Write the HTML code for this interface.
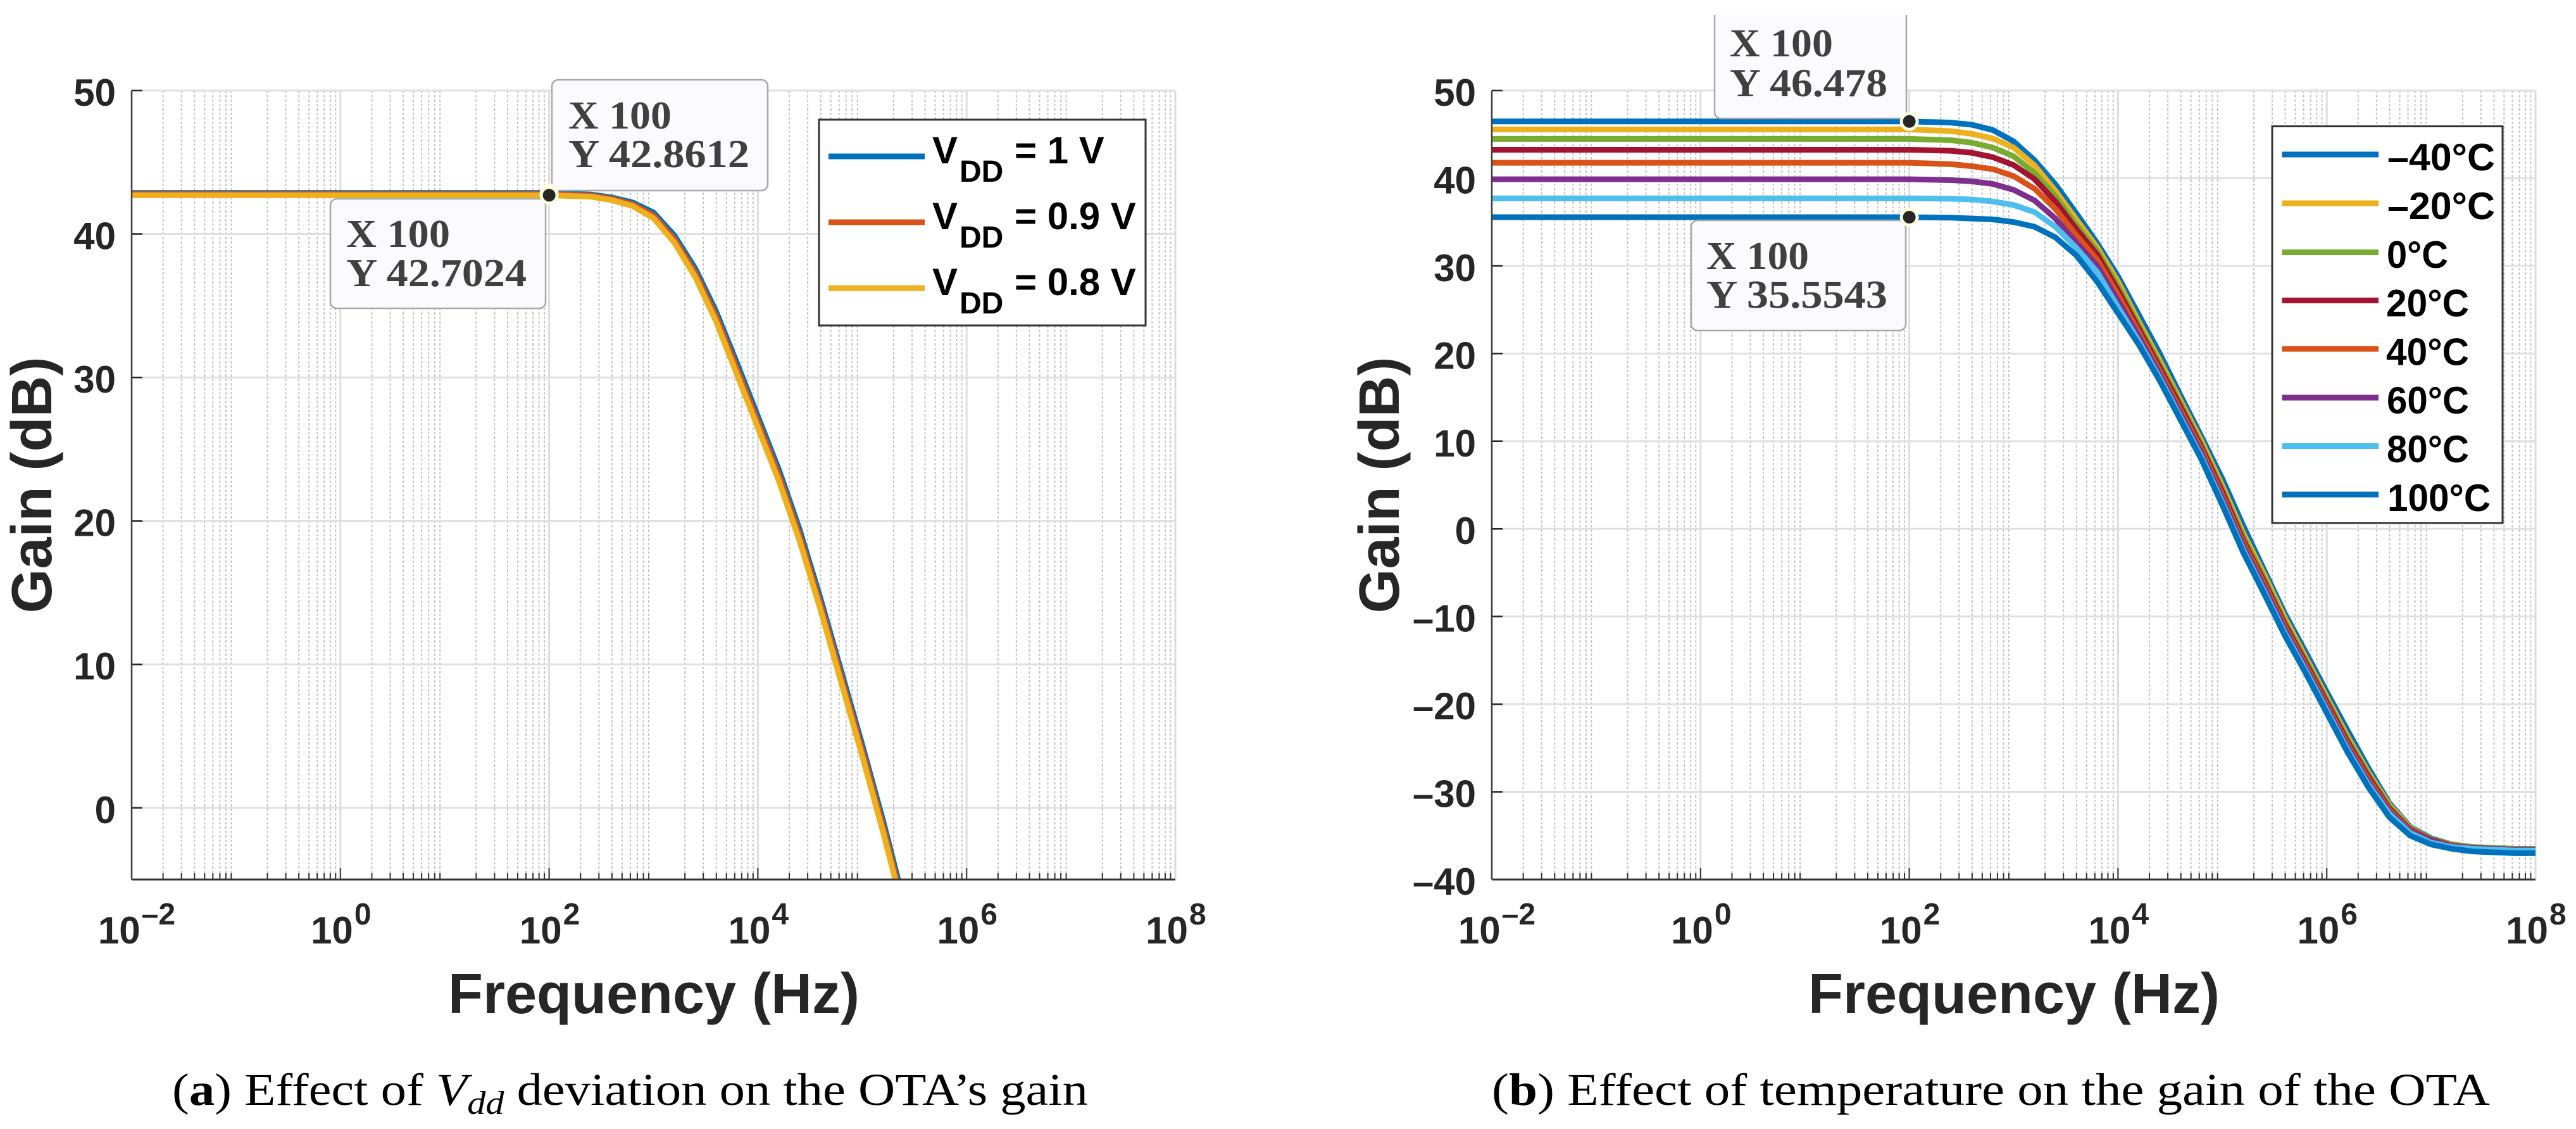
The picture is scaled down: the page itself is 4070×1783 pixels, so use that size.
<!DOCTYPE html>
<html lang="en">
<head>
<meta charset="utf-8">
<title>Effect of VDD deviation and temperature on OTA gain</title>
<style>
html,body{margin:0;padding:0;background:#fff;width:4070px;height:1783px;overflow:hidden}
svg{display:block;font-family:"Liberation Sans",Arial,sans-serif}
.sans{font-family:"Liberation Sans",Arial,sans-serif;font-weight:bold}
.tip{font-family:"Liberation Serif",serif;font-weight:bold;font-size:62px;fill:#404040}
.cap{font-family:"Liberation Serif",serif;font-size:72px;fill:#000}
</style>
</head>
<body>
<svg id="root" xmlns="http://www.w3.org/2000/svg" width="4070" height="1783" viewBox="0 0 4070 1783">
  <defs>
    <clipPath id="clip-a"><rect x="208" y="143" width="1649" height="1246"/></clipPath>
    <clipPath id="clip-b"><rect x="2357" y="143" width="1649" height="1246"/></clipPath>
    <clipPath id="clip-tip"><rect x="2600" y="24" width="500" height="200"/></clipPath>
  </defs>
  <rect x="0" y="0" width="4070" height="1783" fill="#fff"/>
  <g id="panel-a"></g>
  <g id="panel-b"></g>

  <!-- left legend -->
  <g>
    <rect x="1294" y="189" width="516" height="325" fill="#fff" stroke="#333" stroke-width="3"/>
    <g>
      <rect x="1309" y="242.500" width="152" height="9" fill="#0072BD"/>
      <text class="sans" font-size="60" fill="#000"><tspan x="1473" y="258">V</tspan><tspan x="1516" y="287" font-size="48">DD</tspan><tspan x="1603" y="258">= 1 V</tspan></text>
    </g>
    <g>
      <rect x="1309" y="346.500" width="152" height="9" fill="#D95319"/>
      <text class="sans" font-size="60" fill="#000"><tspan x="1473" y="362">V</tspan><tspan x="1516" y="391" font-size="48">DD</tspan><tspan x="1603" y="362">= 0.9 V</tspan></text>
    </g>
    <g>
      <rect x="1309" y="450.500" width="152" height="9" fill="#EDB120"/>
      <text class="sans" font-size="60" fill="#000"><tspan x="1473" y="466">V</tspan><tspan x="1516" y="495" font-size="48">DD</tspan><tspan x="1603" y="466">= 0.8 V</tspan></text>
    </g>
  </g>

  <!-- left data tips -->
  <g>
    <rect x="872" y="126" width="341" height="175" rx="10" fill="#fafaff" stroke="#a8a8a8" stroke-width="2.500"/>
    <text class="tip" x="898" y="203" textLength="163" lengthAdjust="spacingAndGlyphs">X 100</text>
    <text class="tip" x="898" y="264" textLength="286" lengthAdjust="spacingAndGlyphs">Y 42.8612</text>
  </g>
  <g>
    <rect x="522" y="314" width="340" height="173" rx="10" fill="#fafaff" stroke="#a8a8a8" stroke-width="2.500"/>
    <text class="tip" x="547" y="390" textLength="164" lengthAdjust="spacingAndGlyphs">X 100</text>
    <text class="tip" x="547" y="452" textLength="285" lengthAdjust="spacingAndGlyphs">Y 42.7024</text>
  </g>

  <!-- right legend -->
  <g>
    <rect x="3590" y="199.500" width="364" height="626.500" fill="#fff" stroke="#333" stroke-width="3"/>
    <g class="sans" font-size="60" fill="#000">
      <g><rect x="3605.500" y="239.500" width="152.500" height="9" fill="#0072BD"/><text x="3772" y="269" textLength="170" lengthAdjust="spacingAndGlyphs">–40°C</text></g>
      <g><rect x="3605.500" y="316.500" width="152.500" height="9" fill="#EDB120"/><text x="3772" y="346" textLength="170" lengthAdjust="spacingAndGlyphs">–20°C</text></g>
      <g><rect x="3605.500" y="394" width="152.500" height="9" fill="#77AC30"/><text x="3771" y="423" textLength="97" lengthAdjust="spacingAndGlyphs">0°C</text></g>
      <g><rect x="3605.500" y="470" width="152.500" height="9" fill="#A2142F"/><text x="3770" y="499.500" textLength="131" lengthAdjust="spacingAndGlyphs">20°C</text></g>
      <g><rect x="3605.500" y="546.500" width="152.500" height="9" fill="#D95319"/><text x="3770" y="576.500" textLength="131" lengthAdjust="spacingAndGlyphs">40°C</text></g>
      <g><rect x="3605.500" y="623.500" width="152.500" height="9" fill="#7E2F8E"/><text x="3771" y="653" textLength="130" lengthAdjust="spacingAndGlyphs">60°C</text></g>
      <g><rect x="3605.500" y="700" width="152.500" height="9" fill="#4DBEEE"/><text x="3771" y="730" textLength="130" lengthAdjust="spacingAndGlyphs">80°C</text></g>
      <g><rect x="3605.500" y="776.500" width="152.500" height="9" fill="#0072BD"/><text x="3772" y="807" textLength="163" lengthAdjust="spacingAndGlyphs">100°C</text></g>
    </g>
  </g>

  <!-- right data tips -->
  <g>
    <g clip-path="url(#clip-tip)"><rect x="2709" y="0" width="303" height="187" rx="10" fill="#fafaff" stroke="#a8a8a8" stroke-width="2.500"/></g>
    <text class="tip" x="2733" y="89" textLength="163" lengthAdjust="spacingAndGlyphs">X 100</text>
    <text class="tip" x="2733" y="152" textLength="249" lengthAdjust="spacingAndGlyphs">Y 46.478</text>
  </g>
  <g>
    <rect x="2672" y="348" width="339" height="174" rx="10" fill="#fafaff" stroke="#a8a8a8" stroke-width="2.500"/>
    <text class="tip" x="2696" y="425" textLength="162" lengthAdjust="spacingAndGlyphs">X 100</text>
    <text class="tip" x="2696" y="486" textLength="286" lengthAdjust="spacingAndGlyphs">Y 35.5543</text>
  </g>

  <g id="markers"></g>

  <!-- axis titles -->
  <text class="sans" x="1033" y="1600" font-size="90" fill="#262626" text-anchor="middle" textLength="650" lengthAdjust="spacingAndGlyphs">Frequency (Hz)</text>
  <text class="sans" x="3182" y="1600" font-size="90" fill="#262626" text-anchor="middle" textLength="650" lengthAdjust="spacingAndGlyphs">Frequency (Hz)</text>
  <text class="sans" transform="translate(81 766) rotate(-90)" font-size="90" fill="#262626" text-anchor="middle">Gain (dB)</text>
  <text class="sans" transform="translate(2210 766) rotate(-90)" font-size="90" fill="#262626" text-anchor="middle">Gain (dB)</text>

  <!-- captions -->
  <text class="cap" x="272" y="1745" textLength="1447" lengthAdjust="spacingAndGlyphs">(<tspan font-weight="bold">a</tspan>) Effect of <tspan font-style="italic">V</tspan><tspan font-style="italic" font-size="52" dy="14">dd</tspan><tspan dy="-14"> deviation on the OTA’s gain</tspan></text>
  <text class="cap" x="2357" y="1745" textLength="1577" lengthAdjust="spacingAndGlyphs">(<tspan font-weight="bold">b</tspan>) Effect of temperature on the gain of the OTA</text>
</svg>

<script>
// ---------- chart (a): gain vs frequency for three supply voltages ----------
var decadeTicks = [-2, 0, 2, 4, 6, 8];
var gainTicksA = [50, 40, 30, 20, 10, 0];
var logFreqA = [-2, 2, 2.4, 2.6, 2.8, 3.0, 3.2, 3.4, 3.6, 3.8, 4.0, 4.2, 4.4, 4.6, 4.8, 5.0, 5.2, 5.4, 5.6];
var gainVdd1 = [42.86, 42.86, 42.75, 42.55, 42.2, 41.5, 39.9, 37.6, 34.6, 31.0, 27.3, 23.6, 19.4, 14.6, 9.5, 4.4, -0.9, -6.6, -12];
var gainVdd09 = [42.78, 42.78, 42.68, 42.46, 42.08, 41.3, 39.65, 37.3, 34.25, 30.6, 26.9, 23.2, 19.0, 14.2, 9.1, 4.0, -1.3, -7.0, -12.4];
var gainVdd08 = [42.7, 42.7, 42.6, 42.36, 41.95, 41.1, 39.4, 37.0, 33.9, 30.2, 26.5, 22.8, 18.6, 13.8, 8.7, 3.6, -1.7, -7.4, -12.8];

// ---------- chart (b): gain vs frequency for eight temperatures ----------
var gainTicksB = [50, 40, 30, 20, 10, 0, -10, -20, -30, -40];
var logFreqB = [-2, 2, 2.4, 2.6, 2.8, 3.0, 3.2, 3.4, 3.6, 3.8, 4.0, 4.2, 4.4, 4.6, 4.8, 5.0, 5.2, 5.4, 5.6, 5.8, 6.0, 6.2, 6.4, 6.6, 6.8, 7.0, 7.2, 7.4, 7.6, 7.8, 8.0];
var gainM40 = [46.478, 46.478, 46.34, 46.1, 45.5, 44.2, 42.05, 39.3, 36.0, 32.6, 28.8, 24.4, 20.0, 15.2, 10.5, 5.7, 0.35, -4.7, -9.7, -14.1, -18.6, -23.0, -27.3, -31.3, -34.0, -35.3, -36.0, -36.3, -36.4, -36.5, -36.5];
var gainM20 = [45.57, 45.57, 45.37, 45.06, 44.53, 43.5, 41.45, 38.55, 35.3, 32.1, 28.2, 23.6, 19.2, 14.6, 10.0, 4.9, -0.5, -5.2, -10.2, -14.7, -19.2, -23.7, -27.8, -31.5, -34.1, -35.4, -36.0, -36.3, -36.4, -36.5, -36.5];
var gain0 = [44.48, 44.48, 44.34, 44.05, 43.5, 42.5, 40.6, 37.95, 34.7, 31.7, 27.7, 23.2, 18.8, 14.3, 9.6, 4.5, -0.9, -5.6, -10.6, -15.0, -19.5, -24.0, -28.0, -31.7, -34.2, -35.4, -36.0, -36.3, -36.4, -36.5, -36.5];
var gain20 = [43.25, 43.25, 43.13, 42.9, 42.4, 41.5, 39.9, 37.35, 34.2, 31.3, 27.2, 22.8, 18.4, 13.9, 9.3, 4.2, -1.3, -6.0, -10.9, -15.3, -19.8, -24.3, -28.3, -31.9, -34.3, -35.5, -36.1, -36.4, -36.5, -36.6, -36.6];
var gain40 = [41.76, 41.76, 41.6, 41.37, 41.04, 40.24, 38.8, 36.5, 33.5, 30.7, 26.7, 22.4, 18.0, 13.5, 9.0, 3.8, -1.6, -6.3, -11.2, -15.6, -20.1, -24.6, -28.6, -32.1, -34.4, -35.6, -36.1, -36.4, -36.5, -36.6, -36.6];
var gain60 = [39.88, 39.88, 39.78, 39.64, 39.35, 38.67, 37.47, 35.4, 32.65, 30.0, 26.0, 21.9, 17.6, 13.1, 8.6, 3.4, -2.0, -6.7, -11.5, -15.9, -20.4, -24.9, -28.9, -32.3, -34.5, -35.6, -36.2, -36.4, -36.5, -36.6, -36.6];
var gain80 = [37.7, 37.7, 37.66, 37.57, 37.35, 36.94, 36.14, 34.46, 32.05, 29.3, 25.3, 21.4, 17.2, 12.7, 8.2, 3.0, -2.4, -7.1, -11.9, -16.2, -20.7, -25.2, -29.2, -32.5, -34.7, -35.8, -36.3, -36.5, -36.6, -36.7, -36.7];
var gain100 = [35.5543, 35.5543, 35.5, 35.4, 35.3, 35.0, 34.46, 33.25, 31.2, 28.2, 24.6, 21.0, 16.9, 12.4, 7.9, 2.7, -2.7, -7.4, -12.2, -16.5, -21.0, -25.5, -29.5, -32.9, -35.0, -36.0, -36.5, -36.8, -36.9, -37.0, -37.0];

// ---------- datatip values ----------
var tipLogFreq = 2;
var tipGainsA = [42.8612, 42.7024];
var tipGainsB = [46.478, 35.5543];

var SVG_NS = 'http://www.w3.org/2000/svg';

function node(parent, tag) {
  var el = document.createElementNS(SVG_NS, tag);
  parent.appendChild(el);
  return el;
}

function linePath(xs, ys, xScale, yScale) {
  var d = '';
  for (var i = 0; i < xs.length; i++) {
    d += (i ? 'L' : 'M') + xScale(xs[i]).toFixed(2) + ' ' + yScale(ys[i]).toFixed(2);
  }
  return d;
}

function drawPanel(g, opt) {
  var x = function (v) { return opt.left + (v - opt.minDecade) * opt.pxPerDecade; };
  var y = function (v) { return opt.top + (opt.maxGain - v) * opt.pxPerDb; };
  var right = x(opt.maxDecade);
  var bottom = y(opt.minGain);
  var d, k, el, lx;

  // minor vertical grid and minor ticks
  for (d = opt.minDecade; d < opt.maxDecade; d++) {
    for (k = 2; k <= 9; k++) {
      lx = x(d + Math.log10(k));
      el = node(g, 'line');
      
      
      el.setAttribute('x1', lx); el.setAttribute('x2', lx);
      el.setAttribute('y1', opt.top); el.setAttribute('y2', bottom);
      el.setAttribute('stroke', '#c6c6c6');
      el.setAttribute('stroke-width', '2');
      el.setAttribute('stroke-dasharray', '4 3');
      el = node(g, 'line');
      
      
      el.setAttribute('x1', lx); el.setAttribute('x2', lx);
      el.setAttribute('y1', bottom - 10); el.setAttribute('y2', bottom);
      el.setAttribute('stroke', '#333');
      el.setAttribute('stroke-width', '2');
    }
  }

  // major vertical grid, ticks and labels
  decadeTicks.forEach(function (t) {
    var px = x(t);
    var line = node(g, 'line');
    
    
    line.setAttribute('x1', px); line.setAttribute('x2', px);
    line.setAttribute('y1', opt.top); line.setAttribute('y2', bottom);
    line.setAttribute('stroke', '#dedede');
    line.setAttribute('stroke-width', '3');
    var tick = node(g, 'line');
    
    
    tick.setAttribute('x1', px); tick.setAttribute('x2', px);
    tick.setAttribute('y1', bottom - 18); tick.setAttribute('y2', bottom);
    tick.setAttribute('stroke', '#333');
    tick.setAttribute('stroke-width', '2');
    var label = node(g, 'text');
    
    
    label.setAttribute('class', 'sans');
    label.setAttribute('x', px + (t < 0 ? 8 : 1));
    label.setAttribute('y', 1490);
    label.setAttribute('font-size', '60');
    label.setAttribute('fill', '#262626');
    label.setAttribute('text-anchor', 'middle');
    label.appendChild(document.createTextNode('10'));
    var sup = node(label, 'tspan');
    sup.setAttribute('font-size', '48');
    sup.setAttribute('dy', '-30');
    sup.setAttribute('dx', '2');
    sup.textContent = String(t).replace('-', '–');
  });

  // horizontal grid, ticks and labels
  opt.gainTicks.forEach(function (t) {
    var py = y(t);
    var line = node(g, 'line');
    
    
    line.setAttribute('x1', opt.left); line.setAttribute('x2', right);
    line.setAttribute('y1', py); line.setAttribute('y2', py);
    line.setAttribute('stroke', '#e0e0e0');
    line.setAttribute('stroke-width', '3');
    var tick = node(g, 'line');
    
    
    tick.setAttribute('x1', opt.left); tick.setAttribute('x2', opt.left + 17);
    tick.setAttribute('y1', py); tick.setAttribute('y2', py);
    tick.setAttribute('stroke', '#262626');
    tick.setAttribute('stroke-width', '2.5');
    var label = node(g, 'text');
    
    
    label.setAttribute('class', 'sans');
    label.setAttribute('x', opt.left - 25);
    label.setAttribute('y', py + 24);
    label.setAttribute('font-size', '60');
    label.setAttribute('fill', '#262626');
    label.setAttribute('text-anchor', 'end');
    label.textContent = String(t).replace('-', '–');
  });

  // right-hand edge of the light box
  el = node(g, 'line');
  
  
  el.setAttribute('x1', right); el.setAttribute('x2', right);
  el.setAttribute('y1', opt.top); el.setAttribute('y2', bottom);
  el.setAttribute('stroke', '#dcdcdc');
  el.setAttribute('stroke-width', '3');

  // series
  var seriesGroup = node(g, 'g');
  
  
  seriesGroup.setAttribute('clip-path', opt.clip);
  opt.series.forEach(function (s) {
    var p = node(seriesGroup, 'path');
    
    
    p.setAttribute('d', linePath(opt.logFreq, s.values, x, y));
    p.setAttribute('fill', 'none');
    p.setAttribute('stroke', s.color);
    p.setAttribute('stroke-width', '9');
    p.setAttribute('stroke-linejoin', 'round');
  });

  // axis lines
  el = node(g, 'line');
  
  
  el.setAttribute('x1', opt.left); el.setAttribute('x2', opt.left);
  el.setAttribute('y1', opt.top); el.setAttribute('y2', bottom);
  el.setAttribute('stroke', '#404040');
  el.setAttribute('stroke-width', '2.5');
  el = node(g, 'line');
  
  
  el.setAttribute('x1', opt.left); el.setAttribute('x2', right);
  el.setAttribute('y1', bottom); el.setAttribute('y2', bottom);
  el.setAttribute('stroke', '#333');
  el.setAttribute('stroke-width', '3');

  // datatip markers
  var markerLayer = document.getElementById('markers');
  opt.tipGains.forEach(function (v) {
    var c = node(markerLayer, 'circle');
    
    
    c.setAttribute('cx', x(tipLogFreq));
    c.setAttribute('cy', y(v));
    c.setAttribute('r', '12.5');
    c.setAttribute('fill', '#262626');
    c.setAttribute('stroke', '#fdfde0');
    c.setAttribute('stroke-width', '5');
  });
}

drawPanel(document.getElementById('panel-a'), {
  left: 208, top: 143, pxPerDecade: 164.9, pxPerDb: 22.655,
  minDecade: -2, maxDecade: 8, maxGain: 50, minGain: -5,
  gainTicks: gainTicksA, logFreq: logFreqA, clip: 'url(#clip-a)', tipGains: tipGainsA,
  series: [
    { name: 'series-vdd-1v', values: gainVdd1, color: '#0072BD' },
    { name: 'series-vdd-0-9v', values: gainVdd09, color: '#D95319' },
    { name: 'series-vdd-0-8v', values: gainVdd08, color: '#EDB120' }
  ]
});

drawPanel(document.getElementById('panel-b'), {
  left: 2357, top: 143, pxPerDecade: 164.9, pxPerDb: 13.844,
  minDecade: -2, maxDecade: 8, maxGain: 50, minGain: -40,
  gainTicks: gainTicksB, logFreq: logFreqB, clip: 'url(#clip-b)', tipGains: tipGainsB,
  series: [
    { name: 'series-minus-40c', values: gainM40, color: '#0072BD' },
    { name: 'series-minus-20c', values: gainM20, color: '#EDB120' },
    { name: 'series-0c', values: gain0, color: '#77AC30' },
    { name: 'series-20c', values: gain20, color: '#A2142F' },
    { name: 'series-40c', values: gain40, color: '#D95319' },
    { name: 'series-60c', values: gain60, color: '#7E2F8E' },
    { name: 'series-80c', values: gain80, color: '#4DBEEE' },
    { name: 'series-100c', values: gain100, color: '#0072BD' }
  ]
});
</script>
</body>
</html>
